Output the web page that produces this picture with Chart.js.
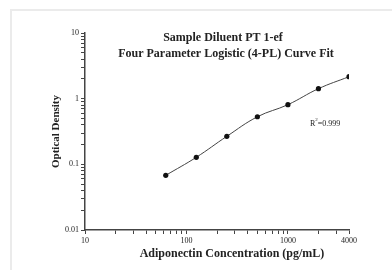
<!DOCTYPE html>
<html>
<head>
<meta charset="utf-8">
<script src="https://cdn.jsdelivr.net/npm/chart.js"></script>
<style>
    body { margin: 0; background: #ffffff; }
    #frame {
        position: absolute; left: 10px; top: 9px; width: 382px; height: 261px;
        border-top: 2px solid #ebebeb; border-left: 2px solid #ebebeb;
    }
    #wrap { position: absolute; left: 0; top: 0; width: 392px; height: 270px; }
</style>
</head>
<body>
<div id="frame"></div>
<div id="wrap"><canvas id="myChart" width="392" height="270"></canvas></div>
<script>
const concentrations = [62.5, 125, 250, 500, 1000, 2000, 4000];
const densities = [0.068, 0.128, 0.267, 0.53, 0.81, 1.42, 2.16];

const xTicks = [10, 20, 30, 40, 50, 60, 70, 80, 90, 100, 200, 300, 400, 500, 600, 700, 800, 900, 1000, 2000, 3000, 4000];
const xLabels = [10, 100, 1000, 4000];
const yTicks = [0.01, 0.02, 0.03, 0.04, 0.05, 0.06, 0.07, 0.08, 0.09, 0.1, 0.2, 0.3, 0.4, 0.5, 0.6, 0.7, 0.8, 0.9, 1, 2, 3, 4, 5, 6, 7, 8, 9, 10];
const yLabels = [0.01, 0.1, 1, 10];

const titleLines = ["Sample Diluent PT 1-ef", "Four Parameter Logistic (4-PL) Curve Fit"];
const xTitle = "Adiponectin Concentration (pg/mL)";
const yTitle = "Optical Density";
const fitNote = "=0.999";

const serif = "'Liberation Serif', 'Times New Roman', serif";
const axisColor = "#444444";
const textColor = "#222222";

const textPlugin = {
    id: "textPlugin",
    afterDraw(chart) {
        const ctx = chart.ctx;
        ctx.save();
        ctx.fillStyle = textColor;
        ctx.textAlign = "center";
        ctx.textBaseline = "middle";
        ctx.font = "bold 12px " + serif;
        ctx.fillText(titleLines[0], 223, 38);
        ctx.fillText(titleLines[1], 226, 54);
        ctx.fillText(xTitle, 232, 254);

        // R squared note
        ctx.textAlign = "left";
        ctx.font = "8px " + serif;
        ctx.fillText("R", 310, 124);
        var rw = ctx.measureText("R").width;
        ctx.font = "5px " + serif;
        ctx.fillText("2", 310 + rw, 120);
        var sw = ctx.measureText("2").width;
        ctx.font = "8px " + serif;
        ctx.fillText(fitNote, 310 + rw + sw, 124);
        ctx.restore();
    }
};

new Chart("myChart", {
    type: "line",
    data: {
        datasets: [{
            data: concentrations.map((x, i) => ({ x: x, y: densities[i] })),
            borderColor: "#444444",
            borderWidth: 1,
            backgroundColor: "#111111",
            pointBackgroundColor: "#111111",
            pointBorderWidth: 0,
            pointRadius: 2.6,
            tension: 0.4,
            fill: false
        }]
    },
    plugins: [textPlugin],
    options: {
        responsive: false,
        animation: false,
        events: [],
        layout: {
            padding: { left: 0, top: 33, right: 43, bottom: 0 }
        },
        plugins: {
            legend: { display: false },
            tooltip: { enabled: false },
            title: { display: false }
        },
        scales: {
            x: {
                type: "logarithmic",
                min: 10,
                max: 4000,
                afterBuildTicks: (scale) => {
                    scale.ticks = xTicks.map(v => ({ value: v }));
                },
                afterFit: (scale) => {
                    scale.height = 40;
                },
                grid: {
                    drawOnChartArea: false,
                    drawTicks: true,
                    tickLength: 4,
                    tickColor: axisColor
                },
                border: { display: true, color: axisColor, width: 1.5 },
                ticks: {
                    autoSkip: false,
                    maxRotation: 0,
                    padding: 2,
                    color: textColor,
                    font: { family: serif, size: 8 },
                    callback: (value) => xLabels.includes(value) ? String(value) : ""
                }
            },
            y: {
                type: "logarithmic",
                min: 0.01,
                max: 10,
                afterBuildTicks: (scale) => {
                    scale.ticks = yTicks.map(v => ({ value: v }));
                },
                afterFit: (scale) => {
                    scale.width = 85;
                },
                grid: {
                    drawOnChartArea: false,
                    drawTicks: true,
                    tickLength: 4,
                    tickColor: axisColor
                },
                border: { display: true, color: axisColor, width: 1.5 },
                title: {
                    display: true,
                    text: yTitle,
                    color: textColor,
                    font: { family: serif, size: 11, weight: "bold" },
                    padding: { top: 50, bottom: 0 }
                },
                ticks: {
                    autoSkip: false,
                    padding: 2,
                    color: textColor,
                    font: { family: serif, size: 8 },
                    callback: (value) => yLabels.includes(value) ? String(value) : ""
                }
            }
        }
    }
});
</script>
</body>
</html>
